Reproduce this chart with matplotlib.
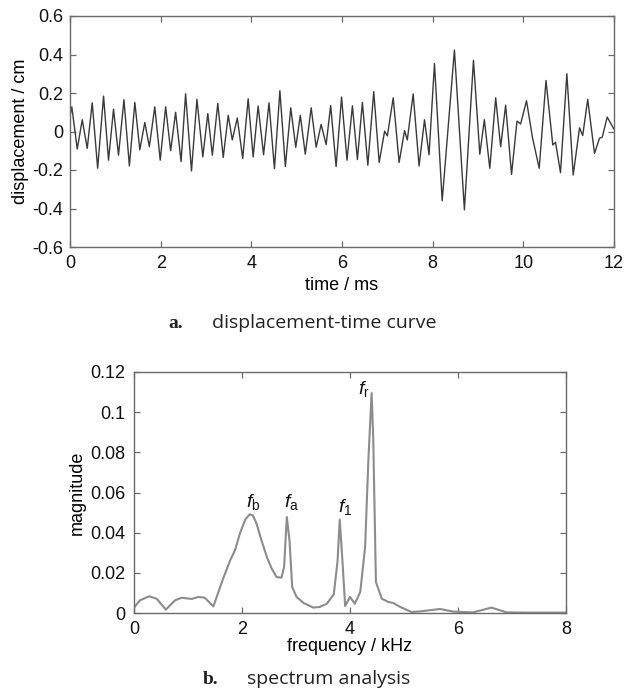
import matplotlib
matplotlib.use("Agg")
import matplotlib.pyplot as plt

plt.rcParams['font.family'] = ['Liberation Sans', 'DejaVu Sans']
plt.rcParams['mathtext.fontset'] = 'custom'
plt.rcParams['mathtext.it'] = 'Liberation Sans:italic'
plt.rcParams['mathtext.rm'] = 'Liberation Sans'

# ---- data: displacement-time curve (extrema) ----
time_ms = [0.00, 0.04, 0.16, 0.27, 0.38, 0.49, 0.61, 0.74, 0.85, 0.96,
           1.07, 1.19, 1.31, 1.43, 1.54, 1.65, 1.75, 1.87, 1.99, 2.11,
           2.22, 2.33, 2.45, 2.55, 2.68, 2.80, 2.93, 3.04, 3.14, 3.26,
           3.38, 3.49, 3.58, 3.69, 3.81, 3.93, 4.04, 4.15, 4.27, 4.39,
           4.51, 4.63, 4.75, 4.87, 4.98, 5.08, 5.19, 5.32,
           5.43, 5.54, 5.65, 5.75, 5.87, 5.99, 6.11, 6.23, 6.34, 6.45,
           6.57, 6.70, 6.82, 6.94, 7.00, 7.13, 7.26, 7.38, 7.44, 7.57,
           7.70, 7.82, 7.92, 8.04, 8.21, 8.48, 8.70, 8.90, 9.04, 9.14,
           9.26, 9.39, 9.50, 9.61, 9.74, 9.86, 9.94, 10.07, 10.20, 10.35,
           10.50, 10.65, 10.71, 10.82, 10.96, 11.10, 11.24, 11.31, 11.42,
           11.57, 11.68, 11.74, 11.85, 12.00]
disp_cm = [0.080, 0.128, -0.091, 0.061, -0.088, 0.149, -0.191, 0.184, -0.149, 0.116,
           -0.123, 0.165, -0.179, 0.151, -0.095, 0.047, -0.079, 0.128, -0.149, 0.128,
           -0.100, 0.100, -0.156, 0.196, -0.205, 0.167, -0.132, 0.093, -0.123, 0.146,
           -0.135, 0.084, -0.044, 0.070, -0.140, 0.170, -0.132, 0.132, -0.121, 0.149,
           -0.193, 0.212, -0.182, 0.123, -0.082, 0.084, -0.118, 0.123,
           -0.082, 0.037, -0.068, 0.135, -0.182, 0.179, -0.149, 0.133, -0.146, 0.151,
           -0.175, 0.207, -0.161, 0.002, -0.023, 0.175, -0.161, 0.005, -0.044, 0.195,
           -0.179, 0.061, -0.121, 0.353, -0.360, 0.423, -0.407, 0.370, -0.118, 0.061,
           -0.191, 0.175, -0.079, 0.137, -0.223, 0.054, 0.039, 0.160, -0.030, -0.191,
           0.265, -0.070, -0.056, -0.214, 0.300, -0.226, 0.019, -0.021, 0.167,
           -0.114, -0.035, -0.030, 0.075, 0.012]

# ---- data: spectrum ----
freq_khz = [0.00, 0.11, 0.28, 0.42, 0.59, 0.76, 0.88, 1.07, 1.19, 1.31,
            1.47, 1.65, 1.78, 1.87, 1.96, 2.06, 2.14, 2.20, 2.27, 2.36,
            2.46, 2.55, 2.64, 2.73, 2.78, 2.83, 2.88, 2.93, 3.01, 3.14,
            3.32, 3.44, 3.57, 3.70, 3.77, 3.81, 3.86, 3.91, 4.00, 4.09,
            4.19, 4.28, 4.34, 4.40, 4.43, 4.48, 4.59, 4.71, 4.80, 4.93,
            5.14, 5.30, 5.67, 5.91, 6.28, 6.62, 6.90, 7.27, 8.00]
magnitude = [0.0027, 0.0063, 0.0083, 0.0071, 0.0017, 0.0063, 0.0076, 0.0070, 0.0080, 0.0076,
             0.0033, 0.0171, 0.0262, 0.0312, 0.0395, 0.0465, 0.0491, 0.0486, 0.0445, 0.0362,
             0.0279, 0.0221, 0.0179, 0.0176, 0.0230, 0.0478, 0.0360, 0.0129, 0.0080, 0.0050,
             0.0027, 0.0030, 0.0046, 0.0093, 0.0260, 0.0465, 0.0260, 0.0035, 0.0080, 0.0046,
             0.0105, 0.0329, 0.0760, 0.1095, 0.0876, 0.0154, 0.0071, 0.0055, 0.0050, 0.0030,
             0.0005, 0.0008, 0.0020, 0.0007, 0.0003, 0.0027, 0.0003, 0.0002, 0.0002]

peak_labels = ['b', 'a', '1', 'r']
peak_label_f = [2.07, 2.77, 3.77, 4.14]
peak_label_m = [0.0526, 0.0526, 0.0503, 0.1089]

top_xticks = [0, 2, 4, 6, 8, 10, 12]
top_yticks = [-0.6, -0.4, -0.2, 0, 0.2, 0.4, 0.6]
top_yticklabels = ['-0.6', '-0.4', '-0.2', '0', '0.2', '0.4', '0.6']
bot_xticks = [0, 2, 4, 6, 8]
bot_yticks = [0, 0.02, 0.04, 0.06, 0.08, 0.10, 0.12]
bot_yticklabels = ['0', '0.02', '0.04', '0.06', '0.08', '0.1', '0.12']

W, H = 625, 692
fig = plt.figure(figsize=(W / 100, H / 100), dpi=100)

def px_axes(l, t, r, b):
    return fig.add_axes([l / W, 1 - b / H, (r - l) / W, (b - t) / H])

spine_c = '#6a6a6a'

def style(ax, xpad, ypad):
    for s in ax.spines.values():
        s.set_color(spine_c)
        s.set_linewidth(1.0)
    ax.tick_params(direction='in', length=4, width=0.9, color=spine_c,
                   top=True, right=True, labelsize=13, labelcolor='#111111')
    ax.tick_params(axis='x', pad=xpad)
    ax.tick_params(axis='y', pad=ypad)

# top panel
ax1 = px_axes(70, 16, 614, 247)
ax1.plot(time_ms, disp_cm, color='#3a3a3a', lw=1.0)
ax1.set_xlim(0, 12)
ax1.set_ylim(-0.6, 0.6)
ax1.set_xticks(top_xticks)
ax1.set_xticklabels([str(v) for v in top_xticks])
ax1.set_yticks(top_yticks)
ax1.set_yticklabels(top_yticklabels)
style(ax1, 6, 5)
ax1.set_xlabel('time / ms', fontsize=13, labelpad=3)
ax1.set_ylabel('displacement / cm', fontsize=13, labelpad=2)

# bottom panel
ax2 = px_axes(134, 372, 566, 613)
ax2.plot(freq_khz, magnitude, color='#8c8c8c', lw=1.5)
ax2.set_xlim(0, 8)
ax2.set_ylim(0, 0.12)
ax2.set_xticks(bot_xticks)
ax2.set_xticklabels([str(v) for v in bot_xticks])
ax2.set_yticks(bot_yticks)
ax2.set_yticklabels(bot_yticklabels)
style(ax2, 6, 6)
ax2.set_xlabel('frequency / kHz', fontsize=13, labelpad=0)
ax2.set_ylabel('magnitude', fontsize=13, labelpad=3)
for lab, fx, my in zip(peak_labels, peak_label_f, peak_label_m):
    ax2.text(fx, my, r'$\mathit{f}_{\mathrm{%s}}$' % lab, fontsize=14,
             ha='left', va='baseline', color='#111111')

# captions
cap_font = ['Open Sans', 'DejaVu Sans']
fig.text(168 / W, 1 - 323 / H, 'a.', fontsize=14, fontweight='bold',
         family=['Liberation Serif'], va='center', ha='left', color='#222222')
fig.text(212 / W, 1 - 323 / H, 'displacement-time curve', fontsize=14,
         family=cap_font, va='center', ha='left', color='#222222')
fig.text(203 / W, 1 - 679 / H, 'b.', fontsize=14, fontweight='bold',
         family=['Liberation Serif'], va='center', ha='left', color='#222222')
fig.text(247 / W, 1 - 679 / H, 'spectrum analysis', fontsize=14,
         family=cap_font, va='center', ha='left', color='#222222')

fig.savefig('out.png', dpi=100)
